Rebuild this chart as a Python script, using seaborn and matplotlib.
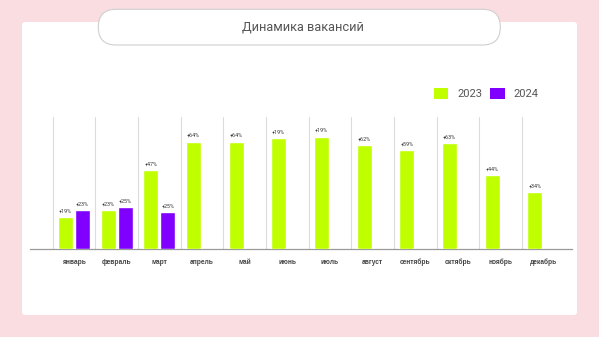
import matplotlib
matplotlib.use("Agg")
import matplotlib.pyplot as plt
from matplotlib.patches import FancyBboxPatch, Patch
import seaborn as sns
import pandas as pd

months = ["январь", "февраль", "март", "апрель", "май", "июнь",
          "июль", "август", "сентябрь", "октябрь", "ноябрь", "декабрь"]
vals_2023 = [19, 23, 47, 64, 64, 66, 67, 62, 59, 63, 44, 34]
vals_2024 = [23, 25, 22]
labels_2023 = ["+19%", "+23%", "+47%", "+64%", "+64%", "+19%",
               "+19%", "+62%", "+59%", "+63%", "+44%", "+34%"]
labels_2024 = ["+23%", "+25%", "+25%"]
years = ["2023", "2024"]
title = "Динамика вакансий"

GREEN = "#bfff00"
PURPLE = "#8000ff"
PINK = "#fadde1"

rows = [(m, "2023", v) for m, v in zip(months, vals_2023)]
rows += [(m, "2024", v) for m, v in zip(months, vals_2024)]
df = pd.DataFrame(rows, columns=["month", "year", "value"])

sns.set_theme(style="white")
plt.rcParams["font.family"] = ["Roboto", "DejaVu Sans"]

fig = plt.figure(figsize=(5.99, 3.37), dpi=100)
fig.patch.set_facecolor(PINK)

# white panel
panel = FancyBboxPatch((0.22, 0.22), 5.55, 2.93,
                       boxstyle="round,pad=0,rounding_size=0.03",
                       transform=fig.dpi_scale_trans, facecolor="white",
                       edgecolor="none", zorder=0)
fig.add_artist(panel)

# title pill
pill = FancyBboxPatch((0.983, 2.92), 4.02, 0.357,
                      boxstyle="round,pad=0,rounding_size=0.178",
                      transform=fig.dpi_scale_trans, facecolor="white",
                      edgecolor="#cfcfcf", linewidth=0.8, zorder=1)
fig.add_artist(pill)
fig.text(3.03 / 5.99, (3.37 - 0.272) / 3.37, title, ha="center", va="center",
         fontsize=9.2, color="#555555", family=["Roboto", "DejaVu Sans"])

ax = fig.add_axes([30 / 599, 1 - 249 / 337, 542 / 599, 132 / 337])
ax.set_facecolor("none")
sns.barplot(data=df, x="month", y="value", hue="year", order=months,
            hue_order=years, palette=[GREEN, PURPLE], width=0.8, gap=0.125,
            saturation=1, legend=False, ax=ax, zorder=3)

ax.set_xlim(-1.03, 11.67)
ax.set_ylim(0, 78.7)
for i in range(len(months)):
    ax.axvline(i - 0.5, color="#dcdcdc", linewidth=0.8, zorder=1)

for sp in ["top", "right", "left"]:
    ax.spines[sp].set_visible(False)
ax.spines["bottom"].set_color("#9a9a9a")
ax.spines["bottom"].set_linewidth(0.9)
ax.set_yticks([])
ax.set_xlabel("")
ax.set_ylabel("")
ax.tick_params(axis="x", length=0, pad=7)
for lab in ax.get_xticklabels():
    lab.set_fontsize(4.8)
    lab.set_fontweight("bold")
    lab.set_color("#444444")
    lab.set_family(["Liberation Sans", "DejaVu Sans"])

ax.bar_label(ax.containers[0], labels=labels_2023, padding=2.5,
             fontsize=3.9, color="#333333")
ax.bar_label(ax.containers[1], labels=labels_2024, padding=2.5,
             fontsize=3.9, color="#333333")

handles = [Patch(facecolor=GREEN, edgecolor="none"),
           Patch(facecolor=PURPLE, edgecolor="none")]
fig.legend(handles, years, loc="center left",
           bbox_to_anchor=(434 / 599, 1 - 93.4 / 337), ncol=2,
           frameon=False, fontsize=8, labelcolor="#555555",
           handlelength=1.3, handleheight=1.2, handletextpad=0.8,
           columnspacing=0.7, borderpad=0, borderaxespad=0)

fig.savefig("out.png", dpi=100, facecolor=fig.get_facecolor())
